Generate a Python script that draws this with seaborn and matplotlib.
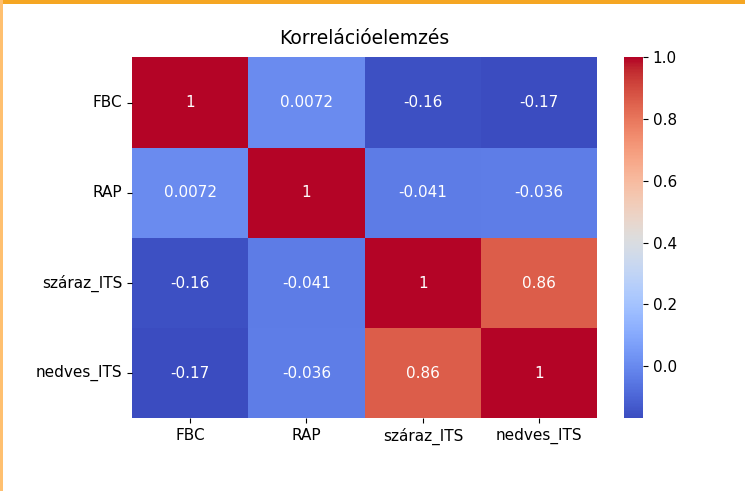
import matplotlib
matplotlib.use("Agg")
import matplotlib.pyplot as plt
import numpy as np
import pandas as pd
import seaborn as sns
from matplotlib.patches import Rectangle

# variables and pairwise correlations
variables = ["FBC", "RAP", "száraz_ITS", "nedves_ITS"]
fbc = [1, 0.0072, -0.16, -0.17]
rap = [0.0072, 1, -0.041, -0.036]
szaraz_its = [-0.16, -0.041, 1, 0.86]
nedves_its = [-0.17, -0.036, 0.86, 1]

corr = pd.DataFrame(
    [fbc, rap, szaraz_its, nedves_its], index=variables, columns=variables
)

plt.rcParams["font.family"] = ["DejaVu Sans"]

fig = plt.figure(figsize=(7.45, 4.91), dpi=100)
ax = fig.add_axes([0.177, 0.148, 0.625, 0.735])
cax = fig.add_axes([0.837, 0.148, 0.026, 0.735])

sns.heatmap(
    corr,
    annot=True,
    cmap="coolwarm",
    ax=ax,
    cbar_ax=cax,
    annot_kws={"fontsize": 11},
)

ax.set_title("Korrelációelemzés", fontsize=13.5, pad=10)
ax.tick_params(labelsize=11)
ax.set_yticklabels(ax.get_yticklabels(), rotation=0)
ax.set_xticklabels(ax.get_xticklabels(), rotation=0)
cax.tick_params(labelsize=11)
for s in cax.spines.values():
    s.set_visible(False)

# orange frame of the screenshot (top and left edges)
fig.patches.append(Rectangle((0, 1 - 4 / 491), 1, 4 / 491, transform=fig.transFigure,
                             facecolor="#f5a623", edgecolor="none", zorder=10))
fig.patches.append(Rectangle((0, 0), 2.5 / 745, 1, transform=fig.transFigure,
                             facecolor="#ffc070", edgecolor="none", zorder=10))

fig.savefig("out.png", dpi=100)
